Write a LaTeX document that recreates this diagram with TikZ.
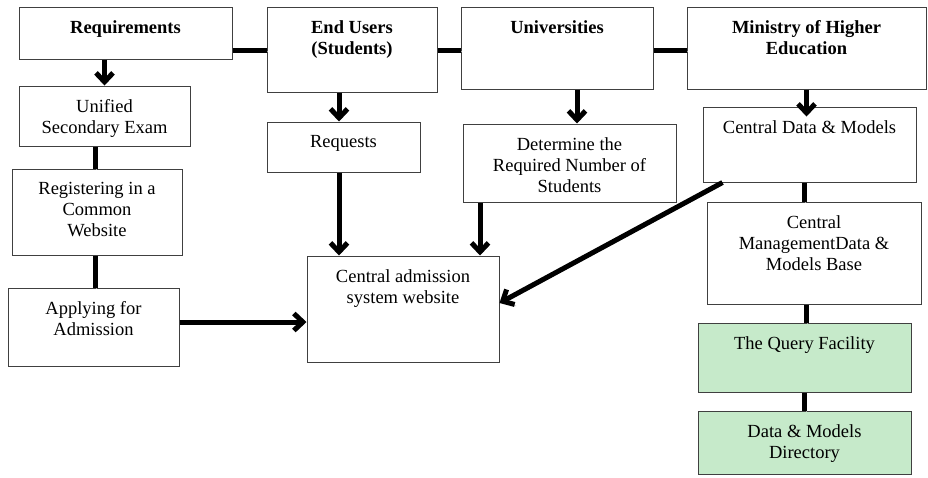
\documentclass[tikz,border=0pt]{standalone}
\usepackage{fontspec}
\setmainfont{Liberation Serif}
\usetikzlibrary{arrows.meta}
\definecolor{querygreen}{RGB}{198,234,202}

\tikzset{
    box/.style={draw=black!75, line width=1pt, rectangle, inner sep=0pt},
    lbl/.style={anchor=north, inner sep=0pt, yshift=-14pt, align=center,
        font=\fontsize{18.5}{21}\selectfont},
    link/.style={line width=5pt,
        preaction={draw=black!35, transform canvas={shift={(1.5pt,-1.5pt)}}}},
    flow/.style={link, -{Straight Barb[length=9pt,width=17pt]}},
}

\begin{document}
\begin{tikzpicture}[x=1pt, y=-1pt]
            \useasboundingbox (0,0) rectangle (928,477);
            % the boxes: name/x/y/width/height/text
            \foreach \nm/\cx/\cy/\w/\h/\txt in {
                req/125.5/33/213/52/{\textbf{Requirements}},
                usr/352/49.5/170/85/{\textbf{End Users}\\\textbf{(Students)}},
                univ/557/48/192/82/{\textbf{Universities}},
                min/806.5/48/239/82/{\textbf{Ministry of Higher}\\\textbf{Education}},
                exam/104.5/116/171/60/{Unified\\Secondary Exam},
                reg/97/212/170/86/{Registering in a\\Common\\Website},
                app/93.5/327/171/78/{Applying for\\Admission},
                rqs/343.5/147/153/50/{Requests},
                det/569.5/163/213/78/{Determine the\\Required Number of\\Students},
                cas/403/309/192/106/{Central admission\\system website},
                cdm/809.5/144.5/213/75/{Central Data \& Models},
                cmb/814/253/214/102/{Central\\ManagementData \&\\Models Base}}{
                \node[box, minimum width=\w, minimum height=\h,
                    label={[lbl]north:\txt}] (\nm) at (\cx,\cy) {};
            }
            \foreach \nm/\cy/\h/\txt in {
                qry/357.5/69/{The Query Facility},
                dir/442.5/63/{Data \& Models\\Directory}}{
                \node[box, fill=querygreen, minimum width=213, minimum height=\h,
                    label={[lbl]north:\txt}] (\nm) at (804.5,\cy) {};
            }

            % plain links
            \draw[link] ([yshift=-17pt]req.east) -- ([yshift=-0.5pt]usr.west);
            \draw[link] ([yshift=-0.5pt]usr.east) -- ([yshift=-2pt]univ.west);
            \draw[link] ([yshift=-2pt]univ.east) -- ([yshift=-2pt]min.west);
            \draw[link] ([xshift=-9.5pt]exam.south) -- ([xshift=-2pt]reg.north);
            \draw[link] ([xshift=-2pt]reg.south) -- ([xshift=1.5pt]app.north);
            \draw[link] ([xshift=-5.5pt]cdm.south) -- ([xshift=-10pt]cmb.north);
            \draw[link] ([xshift=-8pt]cmb.south) -- ([xshift=1.5pt]qry.north);
            \draw[link] (qry.south) -- (dir.north);

            % arrows
            \draw[flow] ([xshift=-21pt]req.south) -- (exam.north);
            \draw[flow] ([xshift=-13pt]usr.south) -- ([xshift=-4.5pt]rqs.north);
            \draw[flow] ([xshift=20pt]univ.south) -- ([xshift=7.5pt]det.north);
            \draw[flow] (min.south) -- ([xshift=-3pt,yshift=-10pt]cdm.north);
            \draw[flow] ([xshift=-4.5pt]rqs.south) -- ([xshift=-64pt]cas.north);
            \draw[flow] ([xshift=-89.5pt]det.south) -- ([xshift=77pt]cas.north);
            \draw[flow] ([yshift=5pt]app.east) -- ([yshift=-13pt]cas.west);
            \draw[flow] ([xshift=20pt]cdm.south west) -- ([yshift=6pt]cas.east);
        \end{tikzpicture}
\end{document}
